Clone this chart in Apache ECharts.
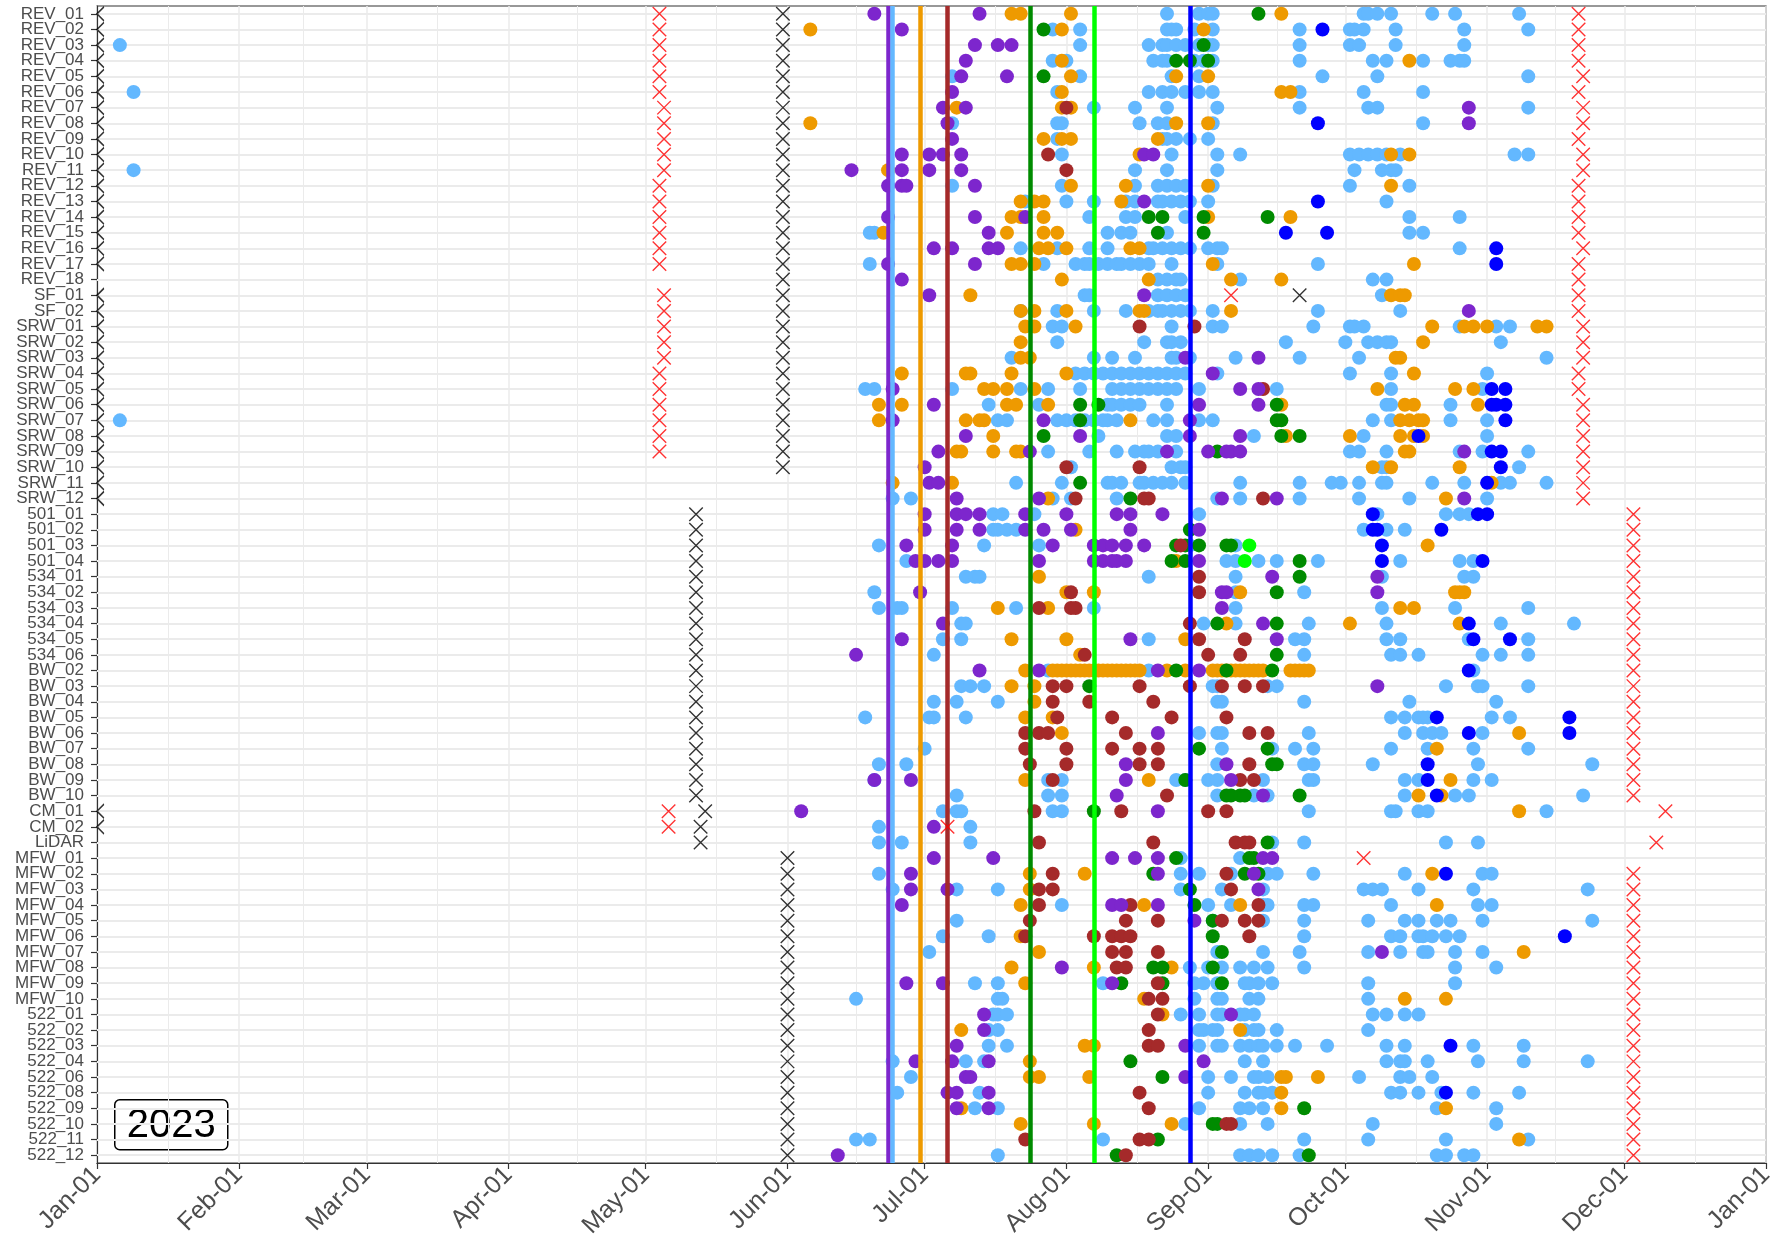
<!DOCTYPE html>
<html><head><meta charset="utf-8">
<script src="https://cdn.jsdelivr.net/npm/echarts@6/dist/echarts.min.js"></script>
<style>html,body{margin:0;padding:0;background:#fff}#chart{width:1777px;height:1260px}</style>
</head><body><div id="chart"></div>
<script>
// ---- categories (top to bottom) ----
const categories = ['REV_01','REV_02','REV_03','REV_04','REV_05','REV_06','REV_07','REV_08','REV_09','REV_10','REV_11','REV_12','REV_13','REV_14','REV_15','REV_16','REV_17','REV_18','SF_01','SF_02','SRW_01','SRW_02','SRW_03','SRW_04','SRW_05','SRW_06','SRW_07','SRW_08','SRW_09','SRW_10','SRW_11','SRW_12','501_01','501_02','501_03','501_04','534_01','534_02','534_03','534_04','534_05','534_06','BW_02','BW_03','BW_04','BW_05','BW_06','BW_07','BW_08','BW_09','BW_10','CM_01','CM_02','LiDAR','MFW_01','MFW_02','MFW_03','MFW_04','MFW_05','MFW_06','MFW_07','MFW_08','MFW_09','MFW_10','522_01','522_02','522_03','522_04','522_06','522_08','522_09','522_10','522_11','522_12'];
const yearLabel = '2023';
// day of year 2023 (0 = Jan-01) of the vertical reference lines
const eventDays = [173, 174, 180, 186, 204, 218, 239];

// ---- detections: [category, [day of year 2023 ...]] ----
const lightblue = [
['REV_01',[234,241,243,244,277,278,280,283,292,297,311]],
['REV_02',[209,215,234,235,236,240,244,263,274,275,277,284,299,313]],
['REV_03',[5,215,230,233,234,236,238,241,243,244,263,274,276,284,299]],
['REV_04',[209,212,231,233,234,240,242,244,263,279,282,290,296,298,299]],
['REV_05',[187,215,235,241,268,280,313]],
['REV_06',[8,210,230,233,235,238,241,244,263,277,290]],
['REV_07',[218,227,234,245,263,278,280,313]],
['REV_08',[187,210,211,228,232,234,244,290]],
['REV_09',[210,233,234,236,239,243]],
['REV_10',[211,235,245,250,274,276,278,280,282,285,310,313]],
['REV_11',[8,227,234,245,275,281,283,284]],
['REV_12',[187,211,227,232,234,236,238,244,274,287]],
['REV_13',[203,212,218,225,227,232,233,235,237,239,243,282]],
['REV_14',[217,225,227,238,287,298]],
['REV_15',[169,170,221,224,226,234,287,290]],
['REV_16',[202,210,217,221,230,231,233,235,237,239,243,245,246,298]],
['REV_17',[169,207,214,216,217,219,221,223,224,226,228,230,235,245,267]],
['REV_18',[232,234,236,237,250,279,282]],
['SF_01',[216,217,232,234,236,238,281]],
['SF_02',[202,210,218,225,230,232,233,235,237,239,244,267,285]],
['SRW_01',[209,211,235,244,246,266,274,275,277,298,306,309]],
['SRW_02',[210,229,234,235,237,260,273,278,280,282,283,307]],
['SRW_03',[200,218,222,227,235,236,239,249,263,276,317]],
['SRW_04',[214,216,218,220,222,224,226,228,230,232,234,236,238,245,274,283,304]],
['SRW_05',[168,170,187,202,208,215,222,224,226,228,230,232,234,236,241,258,283,303]],
['SRW_06',[195,206,221,222,224,226,228,234,282,283,296]],
['SRW_07',[5,197,199,210,212,214,216,218,220,221,223,231,234,241,244,279,283,296,304]],
['SRW_08',[219,234,236,253,277,304]],
['SRW_09',[208,217,223,227,229,230,232,236,274,276,282,298,303,313]],
['SRW_10',[213,235,237,238,281,282,311]],
['SRW_11',[201,211,221,222,224,228,229,231,233,235,238,250,263,270,272,276,281,282,292,299,307,309,317]],
['SRW_12',[174,178,209,213,223,245,250,263,276,287,304]],
['501_01',[196,198,205,241,280,295,298,300]],
['501_02',[196,197,199,201,277,282,286]],
['501_03',[171,194,206,239,249]],
['501_04',[177,247,249,254,258,267,285,298,301]],
['534_01',[190,192,193,230,249,281,299,301]],
['534_02',[170,249,264]],
['534_03',[171,175,176,187,201,218,249,281,297,313]],
['534_04',[189,190,242,249,265,282,307,323]],
['534_05',[185,189,230,262,264,282,285,300,313]],
['534_06',[183,264,283,285,289,303,307,313]],
['BW_02',[208,230,301]],
['BW_03',[189,191,194,244,245,256,258,295,302,303,313]],
['BW_04',[183,188,197,245,246,264,287,306]],
['BW_05',[168,182,183,190,283,286,289,290,291,305,309]],
['BW_06',[241,245,246,265,286,290,292,294,303]],
['BW_07',[181,246,257,262,266,283,291,301,313]],
['BW_08',[171,177,245,264,266,279,302,327]],
['BW_09',[170,208,211,236,238,243,245,255,265,266,286,289,301,305]],
['BW_10',[188,208,211,245,253,256,286,297,300,325]],
['CM_01',[185,188,189,209,211,265,283,284,289,291,317]],
['CM_02',[171,191]],
['LiDAR',[171,176,191,257,264,295,302]],
['MFW_01',[237,250]],
['MFW_02',[171,237,241,248,256,258,266,286,303,305]],
['MFW_03',[174,188,197,237,246,255,277,279,281,289,301,326]],
['MFW_04',[211,243,248,255,256,264,266,283,302,305]],
['MFW_05',[188,244,255,264,278,286,289,293,296,303,327]],
['MFW_06',[185,195,264,283,285,289,290,292,295,298]],
['MFW_07',[182,245,255,263,278,285,290,291,297,303]],
['MFW_08',[239,243,246,250,253,256,264,297,306]],
['MFW_09',[192,197,220,240,242,245,251,252,254,257,278,297]],
['MFW_10',[166,197,198,240,245,246,252,254,278]],
['522_01',[196,197,199,237,241,245,246,250,251,253,279,282,286,289]],
['522_02',[195,197,241,242,244,245,251,253,254,258,278]],
['522_03',[195,199,241,245,246,250,252,254,255,258,262,269,282,286,301,312]],
['522_04',[174,190,194,251,255,282,285,286,291,302,312,326]],
['522_06',[178,243,248,253,254,256,276,285,287,292]],
['522_08',[175,193,243,251,254,255,257,283,285,289,294,301,311]],
['522_09',[192,197,241,250,252,255,293,306]],
['522_10',[238,250,256,279,306]],
['522_11',[166,169,220,264,278,295,313]],
['522_12',[197,250,252,254,257,263,293,295,299,301]]
];
const orange = [
['REV_01',[200,202,213,259]],['REV_02',[156,211,242]],['REV_04',[211,287]],['REV_05',[213,236,243]],
['REV_06',[211,259,261]],['REV_07',[188,211,213]],['REV_08',[156,236,243]],['REV_09',[207,211,213,232]],
['REV_10',[228,283,287]],['REV_11',[173]],['REV_12',[213,225,243,283]],['REV_13',[202,205,207,224]],
['REV_14',[200,202,207,243,261]],['REV_15',[172,199,207,210]],['REV_16',[206,208,212,226,228]],
['REV_17',[200,202,205,244,288]],['REV_18',[211,230,248,259]],['SF_01',[191,283,285,286]],
['SF_02',[202,205,212,228,229,248]],['SRW_01',[203,205,214,292,299,301,304,315,317]],['SRW_02',[202,290]],
['SRW_03',[202,204,284,285]],['SRW_04',[176,190,191,200,212,288]],['SRW_05',[194,196,199,205,280,297,301]],
['SRW_06',[171,176,199,201,208,259,286,288,302]],['SRW_07',[171,190,193,194,226,285,287,289,290]],
['SRW_08',[196,260,274,285,288,290]],['SRW_09',[188,189,196,201,202,286,287]],['SRW_10',[279,283,298]],
['SRW_11',[174,187,305]],['SRW_12',[208,295]],['501_02',[214]],['501_03',[291]],['501_04',[236]],
['534_01',[206]],['534_02',[212,218,250,297,298,299]],['534_03',[197,208,285,288]],['534_04',[247,274,298]],
['534_05',[200,212,238]],['534_06',[215]],
['BW_02',[203,209,210,211,212,213,214,215,216,217,218,219,220,221,222,223,224,225,226,227,228,234,238,244,245,246,247,248,249,250,251,252,253,254,255,261,262,263,264,265]],
['BW_03',[200,205]],['BW_04',[205]],['BW_05',[203,209]],['BW_06',[211,311]],['BW_07',[293]],
['BW_09',[203,230,296]],['BW_10',[289,294]],['CM_01',[311]],['MFW_02',[204,216,292]],['MFW_03',[204]],
['MFW_04',[202,229,250,293]],['MFW_06',[202]],['MFW_07',[206,312]],['MFW_08',[200,218,235]],['MFW_09',[203]],
['MFW_10',[229,286,295]],['522_01',[233]],['522_02',[189,250]],['522_03',[216,218]],['522_04',[204]],
['522_06',[204,206,217,259,260,267]],['522_08',[259]],['522_09',[189,259,295]],['522_10',[202,218,235]],['522_11',[311]]
];
const purple = [
['REV_01',[170,193]],['REV_02',[176]],['REV_03',[192,197,200]],['REV_04',[190]],['REV_05',[189,199]],
['REV_06',[187]],['REV_07',[185,190,300]],['REV_08',[186,300]],['REV_09',[187]],['REV_10',[176,182,185,189,229,231]],
['REV_11',[165,176,182,189]],['REV_12',[173,176,177,192]],['REV_13',[229]],['REV_14',[173,192,203]],['REV_15',[195]],
['REV_16',[183,187,195,197]],['REV_17',[173,192]],['REV_18',[176]],['SF_01',[182,229]],['SF_02',[300]],
['SRW_03',[238,254]],['SRW_04',[244]],['SRW_05',[174,250,254]],['SRW_06',[183,241,254]],['SRW_07',[174,207,239]],
['SRW_08',[190,215,239,250]],['SRW_09',[184,204,234,243,247,248,250,299]],['SRW_10',[181]],['SRW_11',[182,184]],
['SRW_12',[188,206,246,258,299]],['501_01',[181,188,190,193,203,212,223,226,233]],
['501_02',[181,188,193,203,207,213,226,241]],['501_03',[177,187,209,218,220,222,225,229]],
['501_04',[179,181,184,187,206,218,220,222,223,225,241]],['534_01',[257,280]],['534_02',[180,246,247,280]],
['534_03',[246]],['534_04',[185,255]],['534_05',[176,226,258]],['534_06',[166]],['BW_02',[193,206,232,241]],
['BW_03',[280]],['BW_06',[232]],['BW_08',[225,247]],['BW_09',[170,178,225,248]],['BW_10',[223,255]],
['CM_01',[154,232]],['CM_02',[183]],['MFW_01',[183,196,222,227,232,255,257]],['MFW_02',[178,232,253]],
['MFW_03',[178,186,254]],['MFW_04',[176,222,224,232]],['MFW_05',[240]],['MFW_07',[281]],['MFW_08',[211]],
['MFW_09',[177,185,222]],['522_01',[194,248]],['522_02',[194]],['522_03',[188,238]],['522_04',[179,187,195,242]],
['522_06',[190,191,238]],['522_08',[186,188,195]],['522_09',[188,195]],['522_12',[162]]
];
const darkred = [
['REV_07',[212]],['REV_10',[208]],['REV_11',[212]],['SRW_01',[228,240]],['SRW_05',[255]],['SRW_10',[212,228]],
['SRW_12',[214,229,230,255]],['501_03',[237]],['534_01',[241]],['534_02',[213,241]],['534_03',[206,213,214]],
['534_04',[239]],['534_05',[241,251]],['534_06',[216,243,250]],['BW_03',[209,212,228,239,246,251,255]],
['BW_04',[209,217,231]],['BW_05',[210,222,235,247]],['BW_06',[203,206,208,225,252,256]],
['BW_07',[203,212,222,228,232]],['BW_08',[204,212,228,232,252]],['BW_09',[209,250,253]],['BW_10',[234]],
['CM_01',[205,224,243,247]],['LiDAR',[206,231,249,251,252]],['MFW_02',[209,247]],['MFW_03',[206,209,248]],
['MFW_04',[206,226,254]],['MFW_05',[204,225,232,246,251,254]],['MFW_06',[203,218,222,224,226,252]],
['MFW_07',[222,225,232]],['MFW_08',[223,225]],['MFW_09',[232]],['MFW_10',[230,233]],['522_01',[232]],
['522_02',[230]],['522_03',[230,232]],['522_08',[228]],['522_09',[230]],['522_10',[247,248]],
['522_11',[203,228,230]],['522_12',[225]]
];
const green = [
['REV_01',[254]],['REV_02',[207]],['REV_03',[242]],['REV_04',[236,239,243]],['REV_05',[207]],
['REV_14',[230,233,242,256]],['REV_15',[232,242]],['SRW_06',[215,219,258]],['SRW_07',[215,258,259]],
['SRW_08',[207,259,263]],['SRW_09',[245]],['SRW_11',[215]],['SRW_12',[226]],['501_02',[239]],
['501_03',[236,238,241,247,248]],['501_04',[235,238,263]],['534_01',[263]],['534_02',[258]],['534_04',[245,258]],
['534_06',[258]],['BW_02',[236,247,257]],['BW_03',[217]],['BW_07',[241,256]],['BW_08',[257,258]],['BW_09',[238]],
['BW_10',[247,248,250,251,263]],['CM_01',[218]],['LiDAR',[256]],['MFW_01',[236,252,253]],['MFW_02',[231,251,254]],
['MFW_03',[239]],['MFW_04',[240]],['MFW_05',[244]],['MFW_06',[244]],['MFW_07',[246]],['MFW_08',[231,233,244]],
['MFW_09',[224,233,246]],['522_04',[226]],['522_06',[233]],['522_09',[264]],['522_10',[244,245]],['522_11',[232]],
['522_12',[223,265]]
];
const blue = [
['REV_02',[268]],['REV_08',[267]],['REV_13',[267]],['REV_15',[260,269]],['REV_16',[306]],['REV_17',[306]],
['SRW_05',[305,308]],['SRW_06',[305,306,308]],['SRW_07',[308]],['SRW_08',[289]],['SRW_09',[305,307]],
['SRW_10',[307]],['SRW_11',[304]],['501_01',[279,302,304]],['501_02',[279,280,294]],['501_03',[281]],
['501_04',[281,303]],['534_04',[300]],['534_05',[301,309]],['BW_02',[300]],['BW_05',[293,322]],
['BW_06',[300,322]],['BW_08',[291]],['BW_09',[291]],['BW_10',[293]],['MFW_02',[295]],['MFW_06',[321]],
['522_03',[296]],['522_08',[295]]
];
const lime = [['501_03',[252]],['501_04',[251]]];

// ---- deployment marks: [day of year, [categories]] ----
const blackX = [
[0, ['REV_01','REV_02','REV_03','REV_04','REV_05','REV_06','REV_07','REV_08','REV_09','REV_10','REV_11','REV_12','REV_13','REV_14','REV_15','REV_16','REV_17','SF_01','SF_02','SRW_01','SRW_02','SRW_03','SRW_04','SRW_05','SRW_06','SRW_07','SRW_08','SRW_09','SRW_10','SRW_11','SRW_12','CM_01','CM_02']],
[150, ['REV_01','REV_02','REV_03','REV_04','REV_05','REV_06','REV_07','REV_08','REV_09','REV_10','REV_11','REV_12','REV_13','REV_14','REV_15','REV_16','REV_17','REV_18','SF_01','SF_02','SRW_01','SRW_02','SRW_03','SRW_04','SRW_05','SRW_06','SRW_07','SRW_08','SRW_09','SRW_10']],
[131, ['501_01','501_02','501_03','501_04','534_01','534_02','534_03','534_04','534_05','534_06','BW_02','BW_03','BW_04','BW_05','BW_06','BW_07','BW_08','BW_09','BW_10']],
[133, ['CM_01']],
[132, ['CM_02','LiDAR']],
[151, ['MFW_01','MFW_02','MFW_03','MFW_04','MFW_05','MFW_06','MFW_07','MFW_08','MFW_09','MFW_10','522_01','522_02','522_03','522_04','522_06','522_08','522_09','522_10','522_11','522_12']],
[263, ['SF_01']]
];
const redX = [
[123, ['REV_01','REV_02','REV_03','REV_04','REV_05','REV_06','REV_12','REV_13','REV_14','REV_15','REV_16','REV_17','SRW_04','SRW_05','SRW_06','SRW_07','SRW_08','SRW_09']],
[124, ['REV_07','REV_08','REV_09','REV_10','REV_11','SF_01','SF_02','SRW_01','SRW_02','SRW_03']],
[125, ['CM_01','CM_02']],
[186, ['CM_02']],
[248, ['SF_01']],
[277, ['MFW_01']],
[324, ['REV_01','REV_02','REV_03','REV_04','REV_06','REV_09','REV_12','REV_13','REV_14','REV_15','REV_17','REV_18','SF_01','SF_02','SRW_04','SRW_05']],
[325, ['REV_05','REV_07','REV_08','REV_10','REV_11','REV_16','SRW_01','SRW_02','SRW_03','SRW_06','SRW_07','SRW_08','SRW_09','SRW_10','SRW_11','SRW_12']],
[336, ['501_01','501_02','501_03','501_04','534_01','534_02','534_03','534_04','534_05','534_06','BW_02','BW_03','BW_04','BW_05','BW_06','BW_07','BW_08','BW_09','BW_10','MFW_02','MFW_03','MFW_04','MFW_05','MFW_06','MFW_07','MFW_08','MFW_09','MFW_10','522_01','522_02','522_03','522_04','522_06','522_08','522_09','522_10','522_11','522_12']],
[341, ['LiDAR']],
[343, ['CM_01']]
];

// ---- styles ----
const COL = {lb:'#63B8FF', or:'#EE9A00', pu:'#7D26CD', dr:'#A52A2A', gr:'#008B00', bl:'#0000FF', li:'#00FF00'};
const eventColors = [COL.pu, COL.lb, COL.or, COL.dr, COL.gr, COL.li, COL.bl];
const FONT = 'Liberation Sans, Arial, sans-serif';

function toTime(d){ return new Date(2023, 0, 1 + d).getTime(); }
function flatten(rows){ const out=[]; rows.forEach(([c,ds])=>ds.forEach(d=>out.push([toTime(d), c]))); return out; }
function flattenMarks(groups, keep){ const out=[]; groups.forEach(([d,cs])=>{ if(keep(d)) cs.forEach(c=>out.push([toTime(d), c])); }); return out; }

function dots(name, rows, color, extra){
  return Object.assign({
    name, type:'scatter', data: flatten(rows), symbol:'circle', symbolSize:14,
    itemStyle:{color, opacity:1}, z:2, silent:true, animation:false
  }, extra || {});
}
const XPATH = 'path://M0,0 L10,10 M10,0 L0,10';
const HALFX = 'path://M10,0 L0,10 L10,20';

const chart = echarts.init(document.getElementById('chart'), null, {renderer:'canvas'});
chart.setOption({
  animation:false,
  backgroundColor:'#ffffff',
  grid:{left:97, right:6, top:6, bottom:97, show:true, borderColor:'#333333', borderWidth:1.2, backgroundColor:'transparent'},
  xAxis:{
    type:'time', min:toTime(0), max:toTime(365), splitNumber:12, maxInterval:31*86400000,
    axisLine:{show:true, onZero:false, lineStyle:{color:'#333333', width:1.2}},
    axisTick:{show:true, length:6, lineStyle:{color:'#333333', width:1.2}},
    axisLabel:{rotate:45, fontSize:25, color:'#4D4D4D', fontFamily:FONT, margin:8, formatter:'{MMM}-{dd}', showMinLabel:true, showMaxLabel:true, hideOverlap:false},
    splitLine:{show:true, lineStyle:{color:'#EBEBEB', width:1.5}},
    minorTick:{show:false, splitNumber:2},
    minorSplitLine:{show:true, lineStyle:{color:'#EBEBEB', width:1}}
  },
  yAxis:{
    type:'category', data:categories, inverse:true, boundaryGap:true,
    axisLine:{show:true, onZero:false, lineStyle:{color:'#333333', width:1.2}},
    axisTick:{show:true, length:6, alignWithLabel:true, interval:0, lineStyle:{color:'#333333', width:1.2}},
    axisLabel:{interval:0, fontSize:17, color:'#4D4D4D', fontFamily:FONT, margin:13},
    splitLine:{show:false}
  },
  graphic:[{
    type:'group', left:114, top:1099, z:10,
    children:[
      {type:'rect', shape:{x:0, y:0, width:113, height:50, r:5}, style:{fill:'#ffffff', stroke:'#000000', lineWidth:1.5}},
      {type:'text', x:56.5, y:26, style:{text:yearLabel, font:'40px '+FONT, fill:'#000000', align:'center', verticalAlign:'middle'}}
    ]
  }],
  series:[
    dots('lightblue', lightblue, COL.lb, {
      markLine:{silent:true, z:1, symbol:['none','none'], label:{show:false}, animation:false,
        lineStyle:{type:'solid', color:'#EBEBEB', width:2},
        emphasis:{disabled:true},
        data: categories.map((c,i)=>({yAxis:i}))}
    }),
    dots('orange', orange, COL.or),
    dots('green', green, COL.gr),
    dots('darkred', darkred, COL.dr),
    dots('purple', purple, COL.pu),
    dots('blue', blue, COL.bl, {
      markLine:{silent:true, z:4, symbol:['none','none'], label:{show:false}, animation:false,
        emphasis:{disabled:true},
        data: eventDays.map((d,i)=>({xAxis:toTime(d), lineStyle:{type:'solid', color:eventColors[i], width:4.5}}))}
    }),
    dots('lime', lime, COL.li),
    {name:'startHalf', type:'scatter', data:flattenMarks(blackX, d=>d===0), symbol:HALFX, symbolSize:[7,14], symbolOffset:[3.5,0],
      itemStyle:{color:'none', borderColor:'#000000', borderWidth:1.4}, z:5, silent:true, animation:false},
    {name:'blackX', type:'scatter', data:flattenMarks(blackX, d=>d!==0), symbol:XPATH, symbolSize:13.5,
      itemStyle:{color:'none', borderColor:'#000000', borderWidth:1.4}, z:5, silent:true, animation:false},
    {name:'redX', type:'scatter', data:flattenMarks(redX, d=>true), symbol:XPATH, symbolSize:13.5,
      itemStyle:{color:'none', borderColor:'#FF0000', borderWidth:1.4}, z:5, silent:true, animation:false}
  ]
});
</script></body></html>
